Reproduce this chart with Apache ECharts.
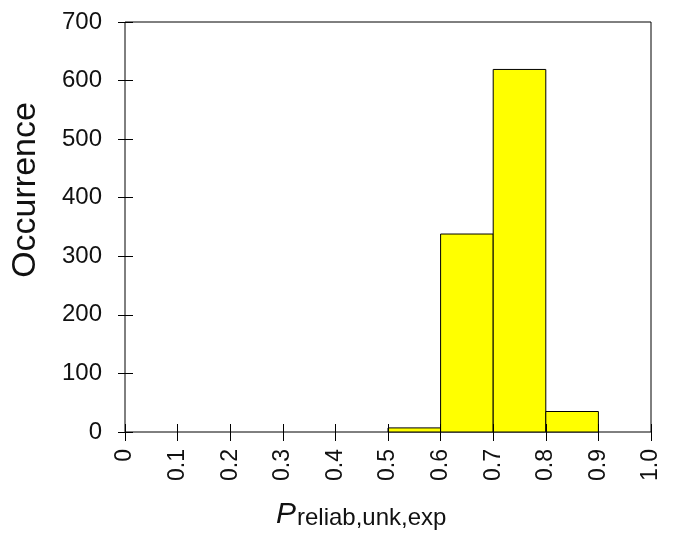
<!DOCTYPE html>
<html>
<head>
<meta charset="utf-8">
<script src="https://cdn.jsdelivr.net/npm/echarts@6/dist/echarts.min.js"></script>
<style>html,body{margin:0;padding:0;background:#fff;}#c{width:678px;height:544px;}</style>
</head>
<body>
<div id="c"></div>
<script>
var binStarts = [0.5, 0.6, 0.7, 0.8];
var binEnds = [0.6, 0.7, 0.8, 0.9];
var counts = [7, 338, 619, 35];
var xTickLabels = ['0', '0.1', '0.2', '0.3', '0.4', '0.5', '0.6', '0.7', '0.8', '0.9', '1.0'];
var yTickLabels = ['0', '100', '200', '300', '400', '500', '600', '700'];

var FONT = '"Liberation Sans", Arial, sans-serif';
var data = counts.map(function (c, i) { return [binStarts[i], binEnds[i], c]; });

var chart = echarts.init(document.getElementById('c'), null, { renderer: 'canvas' });

chart.setOption({
  animation: false,
  grid: {
    left: 125, right: 27, top: 22, bottom: 112,
    show: true, borderColor: '#000', borderWidth: 1, backgroundColor: 'transparent'
  },
  xAxis: {
    type: 'value', min: 0, max: 1, interval: 0.1, splitLine: { show: false },
    position: 'bottom', offset: -8, z: 10,
    axisLine: { show: false, onZero: false },
    axisTick: { show: true, inside: false, length: 17, lineStyle: { color: '#000', width: 1 } },
    axisLabel: {
      show: true, rotate: 90, margin: 25, color: '#111', fontSize: 23, fontFamily: FONT,
      formatter: function (v) { return xTickLabels[Math.round(v * 10)]; }
    }
  },
  yAxis: {
    type: 'value', min: 0, max: 700, interval: 100, splitLine: { show: false },
    position: 'left', offset: -8, z: 10,
    axisLine: { show: false, onZero: false },
    axisTick: { show: true, inside: false, length: 15, lineStyle: { color: '#000', width: 1 } },
    axisLabel: {
      show: true, margin: 31, color: '#111', fontSize: 24, fontFamily: FONT,
      formatter: function (v) { return yTickLabels[Math.round(v / 100)]; }
    }
  },
  series: [
    {
      type: 'custom',
      z: 2,
      data: data,
      encode: { x: [0, 1], y: 2 },
      renderItem: function (params, api) {
        var p0 = api.coord([api.value(0), api.value(2)]);
        var p1 = api.coord([api.value(1), 0]);
        return {
          type: 'rect',
          shape: { x: p0[0], y: p0[1], width: p1[0] - p0[0], height: p1[1] - p0[1] },
          style: { fill: '#ffff00', stroke: '#000', lineWidth: 1 }
        };
      }
    }
  ],
  graphic: [
    {
      type: 'text', x: 26, y: 190, rotation: Math.PI / 2,
      style: { text: 'Occurrence', fontSize: 34, fontFamily: FONT, fill: '#111', align: 'center', verticalAlign: 'middle' }
    },
    {
      type: 'text', x: 276, y: 500,
      style: { text: 'P', fontSize: 30, fontStyle: 'italic', fontFamily: FONT, fill: '#111', align: 'left', verticalAlign: 'top' }
    },
    {
      type: 'text', x: 297, y: 506,
      style: { text: 'reliab,unk,exp', fontSize: 24, fontFamily: FONT, fill: '#111', align: 'left', verticalAlign: 'top' }
    }
  ]
});
</script>
</body>
</html>
